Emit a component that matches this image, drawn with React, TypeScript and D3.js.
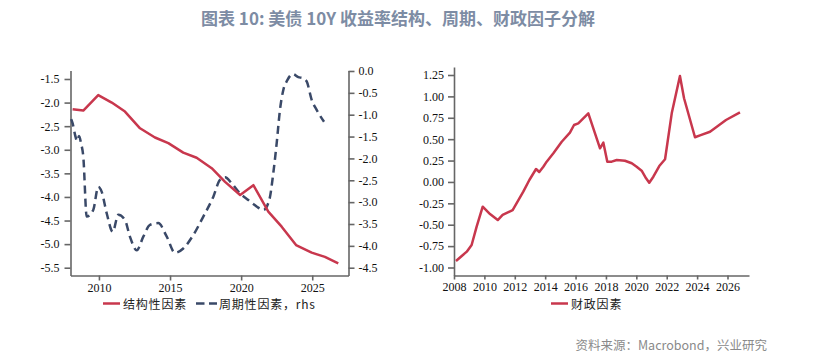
import React, { useEffect, useRef } from 'react';
import * as d3 from 'd3';

// 结构性因素 (left axis)
const structuralDates = [2008.15, 2008.9, 2009.95, 2010.9, 2011.83, 2012.89, 2013.94, 2014.88, 2015.93, 2016.87, 2017.93, 2018.87, 2019.93, 2020.86, 2021.91, 2022.85, 2023.86, 2024.96, 2025.89, 2026.83];
const structuralValues = [-2.14, -2.17, -1.84, -2.0, -2.19, -2.545, -2.74, -2.86, -3.06, -3.17, -3.39, -3.68, -3.96, -3.75, -4.31, -4.63, -5.02, -5.18, -5.27, -5.41];

// 周期性因素 (right axis)
const cyclicalDates = [2008.05, 2008.15, 2008.32, 2008.46, 2008.6, 2008.74, 2008.9, 2009.14, 2009.6, 2009.95, 2010.19, 2010.55, 2010.97, 2011.36, 2011.83, 2012.18, 2012.66, 2013.12, 2013.59, 2014.17, 2014.77, 2015.35, 2015.93, 2016.64, 2017.34, 2018.04, 2018.51, 2018.87, 2019.34, 2019.92, 2020.5, 2021.09, 2021.56, 2021.98, 2022.26, 2022.5, 2022.73, 2022.97, 2023.25, 2023.63, 2024.02, 2024.37, 2024.61, 2024.96, 2025.31, 2025.83];
const cyclicalValues = [-1.1, -1.2, -1.46, -1.6, -1.49, -1.65, -1.96, -3.33, -3.18, -2.65, -2.76, -3.26, -3.68, -3.29, -3.41, -3.79, -4.1, -3.79, -3.52, -3.48, -3.79, -4.16, -4.06, -3.75, -3.33, -2.88, -2.49, -2.43, -2.57, -2.8, -2.95, -3.1, -3.18, -2.95, -2.34, -1.65, -0.89, -0.43, -0.21, -0.07, -0.14, -0.17, -0.24, -0.66, -0.89, -1.16];

// 财政因素
const fiscalDates = [2008.13, 2008.51, 2008.84, 2009.16, 2009.49, 2009.89, 2010.37, 2010.88, 2011.2, 2011.86, 2012.56, 2012.96, 2013.4, 2013.61, 2013.88, 2014.1, 2014.54, 2015.09, 2015.63, 2015.9, 2016.18, 2016.84, 2017.61, 2017.83, 2018.09, 2018.38, 2018.71, 2019.25, 2019.7, 2020.02, 2020.35, 2020.64, 2020.85, 2021.12, 2021.51, 2021.89, 2022.33, 2022.87, 2023.14, 2023.86, 2024.19, 2024.85, 2025.9, 2026.82];
const fiscalValues = [-0.924, -0.865, -0.815, -0.737, -0.523, -0.289, -0.375, -0.445, -0.386, -0.328, -0.114, 0.023, 0.151, 0.116, 0.178, 0.237, 0.335, 0.47, 0.576, 0.666, 0.685, 0.802, 0.393, 0.459, 0.237, 0.237, 0.257, 0.248, 0.218, 0.178, 0.131, 0.043, -0.009, 0.061, 0.186, 0.265, 0.802, 1.238, 0.978, 0.522, 0.545, 0.587, 0.724, 0.814];

const leftTicks = [-5.5, -5.0, -4.5, -4.0, -3.5, -3.0, -2.5, -2.0, -1.5];
const rightTicks = [-4.5, -4.0, -3.5, -3.0, -2.5, -2.0, -1.5, -1.0, -0.5, 0.0];
const leftYearTicks = [2010, 2015, 2020, 2025];
const fiscalTicks = [-1.0, -0.75, -0.5, -0.25, 0, 0.25, 0.5, 0.75, 1.0, 1.25];
const fiscalYearTicks = [2008, 2010, 2012, 2014, 2016, 2018, 2020, 2022, 2024, 2026];

const RED = '#c8374d';
const NAVY = '#3a4968';
const AXIS = '#666';
const TICK_FONT = '"Liberation Serif", "Times New Roman", serif';
const CJK_FONT = '"Noto Sans CJK SC", "Noto Sans", sans-serif';

export default function App() {
    const ref = useRef<SVGSVGElement>(null);

    useEffect(() => {
        const svg = d3.select(ref.current);
        svg.selectAll('*').remove();

        //title
        svg.append('text')
            .attr('x', 398).attr('y', 17)
            .attr('text-anchor', 'middle').attr('dominant-baseline', 'central')
            .style('font-family', CJK_FONT).style('font-size', '17px').style('font-weight', 'bold')
            .style('fill', '#7d8ca4')
            .text('图表 10: 美债 10Y 收益率结构、周期、财政因子分解');

        const styleAxis = (g: any) => {
            g.select('.domain').attr('stroke', AXIS).attr('stroke-width', 1.6);
            g.selectAll('.tick line').attr('stroke', AXIS).attr('stroke-width', 1.6);
            g.selectAll('.tick text').style('font-family', TICK_FONT).style('font-size', '12px').attr('fill', '#111');
        };

        // ---------- left chart ----------
        const top = 70.5, bottom = 275.5;
        const x1 = d3.scaleLinear().domain([2008.0, 2027.55]).range([70.5, 348.5]);
        const yL = d3.scaleLinear().domain([-5.665, -1.32]).range([bottom, top]);
        const yR = d3.scaleLinear().domain([-4.678, 0.011]).range([bottom, top]);

        svg.append('g').attr('transform', `translate(${x1.range()[0]},0)`)
            .call(d3.axisLeft(yL).tickValues(leftTicks).tickFormat((d: any) => d.toFixed(1)).tickSize(6).tickPadding(5).tickSizeOuter(0))
            .call(styleAxis);
        svg.append('g').attr('transform', `translate(${x1.range()[1]},0)`)
            .call(d3.axisRight(yR).tickValues(rightTicks).tickFormat((d: any) => d.toFixed(1)).tickSize(6).tickPadding(4).tickSizeOuter(0))
            .call(styleAxis);
        svg.append('g').attr('transform', `translate(0,${bottom})`)
            .call(d3.axisBottom(x1).tickValues(leftYearTicks).tickFormat((d: any) => String(d)).tickSize(5).tickPadding(3).tickSizeOuter(0))
            .call(styleAxis);

        const structural = structuralDates.map((d, i) => [d, structuralValues[i]]);
        const cyclical = cyclicalDates.map((d, i) => [d, cyclicalValues[i]]);

        svg.append('path')
            .attr('d', d3.line<any>().x(d => x1(d[0])).y(d => yR(d[1])).curve(d3.curveMonotoneX)(cyclical))
            .attr('fill', 'none').attr('stroke', NAVY).attr('stroke-width', 2.5)
            .attr('stroke-dasharray', '8 5');
        svg.append('path')
            .attr('d', d3.line<any>().x(d => x1(d[0])).y(d => yL(d[1]))(structural))
            .attr('fill', 'none').attr('stroke', RED).attr('stroke-width', 2.5).attr('stroke-linejoin', 'round');

        // ---------- right chart ----------
        const x2 = d3.scaleLinear().domain([2008.0, 2027.415]).range([454, 749]);
        const yF = d3.scaleLinear().domain([-1.0935, 1.3435]).range([bottom, 67]);

        svg.append('g').attr('transform', `translate(${x2.range()[0]},0)`)
            .call(d3.axisLeft(yF).tickValues(fiscalTicks).tickFormat((d: any) => d.toFixed(2)).tickSize(6).tickPadding(4).tickSizeOuter(0))
            .call(styleAxis);
        svg.append('g').attr('transform', `translate(0,${bottom})`)
            .call(d3.axisBottom(x2).tickValues(fiscalYearTicks).tickFormat((d: any) => String(d)).tickSize(4).tickPadding(3).tickSizeOuter(0))
            .call(styleAxis);

        const fiscal = fiscalDates.map((d, i) => [d, fiscalValues[i]]);
        svg.append('path')
            .attr('d', d3.line<any>().x(d => x2(d[0])).y(d => yF(d[1]))(fiscal))
            .attr('fill', 'none').attr('stroke', RED).attr('stroke-width', 2.5).attr('stroke-linejoin', 'round');

        // ---------- legends ----------
        const legY = 303.5;
        const legendText = (x: number, t: string) =>
            svg.append('text').attr('x', x).attr('y', legY).attr('dominant-baseline', 'central')
                .style('font-family', CJK_FONT).style('font-size', '12px').style('letter-spacing', '0.8px')
                .attr('fill', '#222').text(t);

        svg.append('line').attr('x1', 103).attr('x2', 120).attr('y1', legY).attr('y2', legY)
            .attr('stroke', RED).attr('stroke-width', 2.5);
        legendText(123, '结构性因素');
        svg.append('line').attr('x1', 196).attr('x2', 217).attr('y1', legY).attr('y2', legY)
            .attr('stroke', NAVY).attr('stroke-width', 2.5).attr('stroke-dasharray', '8.5 4.5');
        legendText(219, '周期性因素，rhs');

        svg.append('line').attr('x1', 551).attr('x2', 568).attr('y1', legY).attr('y2', legY)
            .attr('stroke', RED).attr('stroke-width', 2.5);
        legendText(571, '财政因素');

        //source
        svg.append('text')
            .attr('x', 767).attr('y', 344.5)
            .attr('text-anchor', 'end').attr('dominant-baseline', 'central')
            .style('font-family', CJK_FONT).style('font-size', '12.5px')
            .attr('fill', '#8a8a8a')
            .text('资料来源：Macrobond，兴业研究');
    }, []);

    return (
        <svg ref={ref} width={813} height={358} style={{ position: 'absolute', left: 0, top: 0, background: '#fff' }} />
    );
}
